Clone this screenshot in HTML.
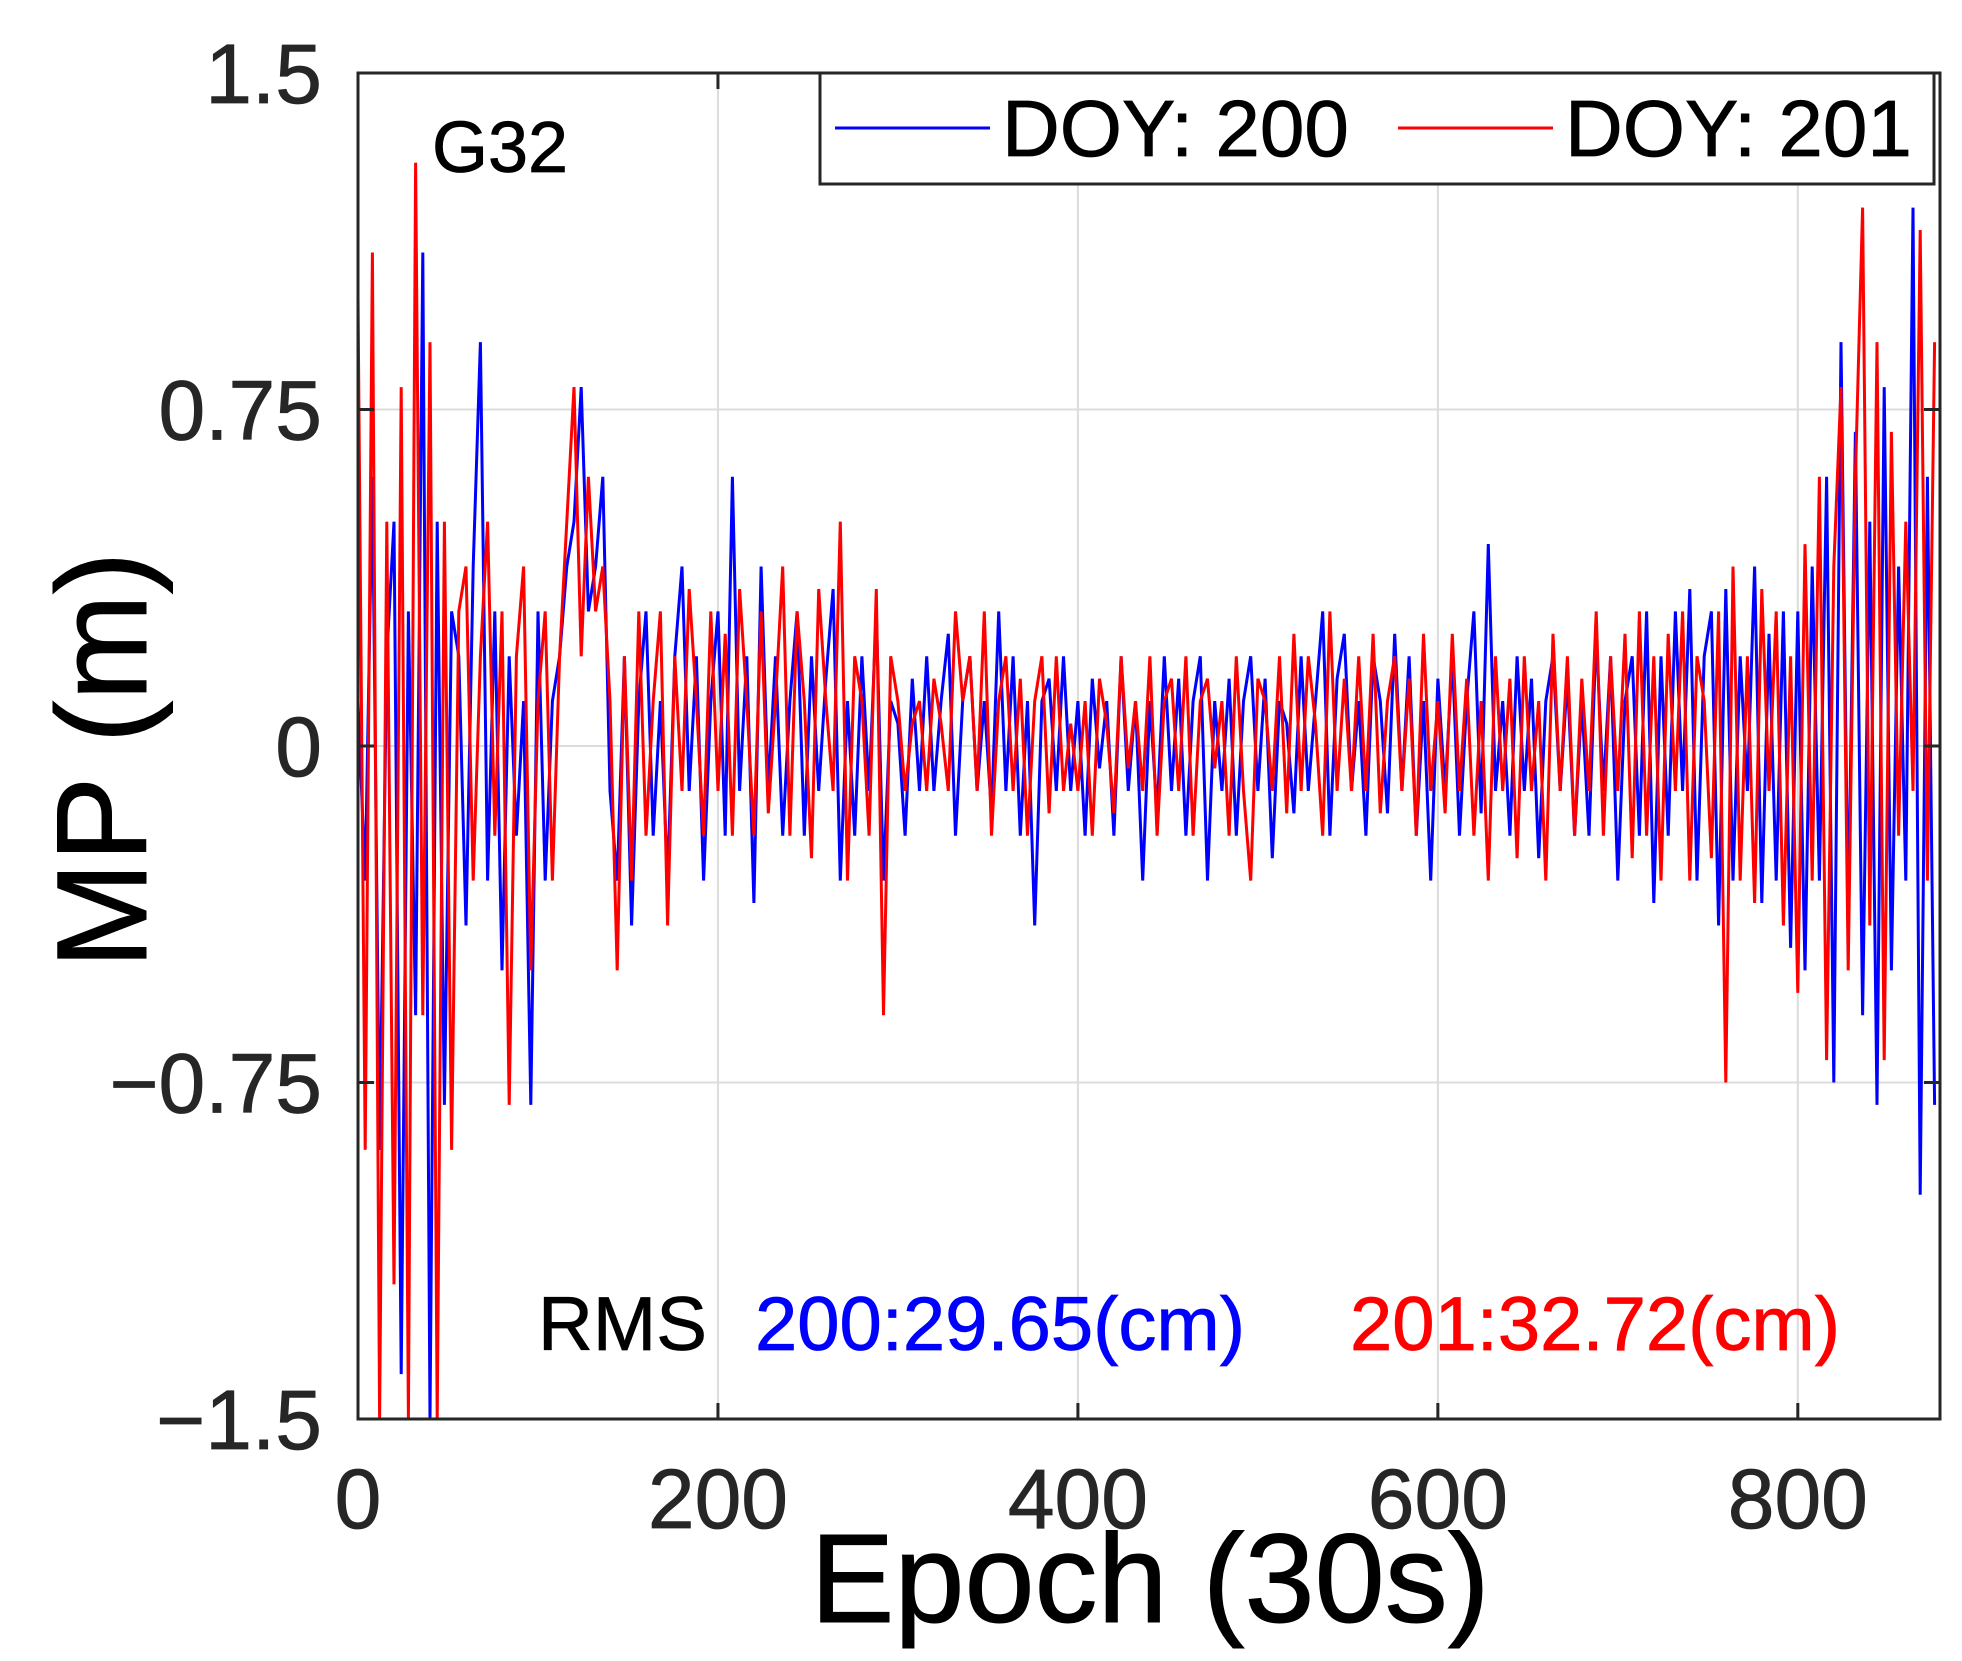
<!DOCTYPE html>
<html><head><meta charset="utf-8"><style>
html,body{margin:0;padding:0;background:#fff;}
svg{display:block;font-family:"Liberation Sans",Arial,sans-serif;}
</style></head><body>
<svg id="chart" width="1962" height="1661" viewBox="0 0 1962 1661" xmlns="http://www.w3.org/2000/svg">
<defs><clipPath id="pc"><rect x="358" y="73" width="1582" height="1346"/></clipPath></defs>
<rect x="0" y="0" width="1962" height="1661" fill="#fff"/>
<g id="grid"></g>
<g id="series" clip-path="url(#pc)"></g>
<rect x="358" y="73" width="1582" height="1346" fill="none" stroke="#262626" stroke-width="3"/>
<g id="ticks"></g>
<text x="432" y="172" font-size="72" fill="#000" stroke="#000" stroke-width="0.8">G32</text>
<g>
<rect x="820" y="73" width="1114" height="111" fill="#fff" stroke="#262626" stroke-width="3"/>
<line x1="835" y1="128" x2="990" y2="128" stroke="#0000ff" stroke-width="3"/>
<text x="1002" y="156" font-size="80" fill="#000" stroke="#000" stroke-width="0.8">DOY: 200</text>
<line x1="1398" y1="128" x2="1553" y2="128" stroke="#ff0000" stroke-width="3"/>
<text x="1565" y="156" font-size="80" fill="#000" stroke="#000" stroke-width="0.8">DOY: 201</text>
</g>
<text x="538" y="1350" font-size="76" fill="#000" stroke="#000" stroke-width="0.8">RMS</text>
<text x="755" y="1350" font-size="76" fill="#0000ff" stroke="#0000ff" stroke-width="0.8">200:29.65(cm)</text>
<text x="1350" y="1350" font-size="76" fill="#ff0000" stroke="#ff0000" stroke-width="0.8">201:32.72(cm)</text>
<text x="1150" y="1622" font-size="126" text-anchor="middle" fill="#000" stroke="#000" stroke-width="1">Epoch (30s)</text>
<text transform="translate(146,760) rotate(-90)" font-size="128" text-anchor="middle" fill="#000" stroke="#000" stroke-width="1">MP (m)</text>
</svg>
<script>
const xTicks=[0,200,400,600,800];
const yTicks=[-1.5,-0.75,0,0.75,1.5];
const yTickLabels=["\u22121.5","\u22120.75","0","0.75","1.5"];
const epochStep=4;
const doy200=[0.1,-0.3,0.6,-0.9,0.2,0.5,-1.4,0.3,-0.6,1.1,
-1.5,0.5,-0.8,0.3,0.2,-0.4,0.4,0.9,-0.3,0.3,
-0.5,0.2,-0.2,0.1,-0.8,0.3,-0.3,0.1,0.2,0.4,
0.5,0.8,0.3,0.4,0.6,-0.1,-0.3,0.2,-0.4,0.1,
0.3,-0.2,0.1,-0.3,0.2,0.4,-0.1,0.2,-0.3,0.1,
0.3,-0.2,0.6,-0.1,0.2,-0.35,0.4,-0.1,0.2,-0.2,
0.1,0.3,-0.2,0.2,-0.1,0.15,0.35,-0.3,0.1,-0.2,
0.2,-0.1,0.3,-0.3,0.1,0.05,-0.2,0.15,-0.1,0.2,
-0.1,0.1,0.25,-0.2,0.1,0.2,-0.1,0.1,-0.15,0.3,
-0.1,0.2,-0.2,0.1,-0.4,0.1,0.15,-0.1,0.2,-0.1,
0.1,-0.2,0.15,-0.05,0.1,-0.2,0.2,-0.1,0.1,-0.3,
0.1,-0.15,0.2,-0.1,0.15,-0.2,0.1,0.2,-0.3,0.1,
-0.1,0.15,-0.2,0.1,0.2,-0.1,0.15,-0.25,0.1,0.05,
-0.15,0.2,-0.1,0.1,0.3,-0.2,0.15,0.25,-0.1,0.1,
-0.2,0.2,0.1,-0.15,0.25,-0.1,0.2,-0.2,0.1,-0.3,
0.15,-0.1,0.2,-0.2,0.1,0.3,-0.15,0.45,-0.1,0.1,
-0.2,0.2,-0.1,0.15,-0.25,0.1,0.2,-0.1,0.15,-0.2,
0.1,-0.2,0.25,-0.1,0.2,-0.3,0.1,0.2,-0.2,0.3,
-0.35,0.2,-0.2,0.3,-0.1,0.35,-0.3,0.2,0.3,-0.4,
0.35,-0.3,0.2,-0.1,0.4,-0.35,0.25,-0.3,0.3,-0.45,
0.3,-0.5,0.4,-0.3,0.6,-0.75,0.9,-0.4,0.7,-0.6,
0.5,-0.8,0.8,-0.5,0.4,-0.3,1.2,-1.0,0.6,-0.8];
const doy201=[1.0,-0.9,1.1,-1.5,0.5,-1.2,0.8,-1.5,1.3,-0.6,
0.9,-1.5,0.5,-0.9,0.3,0.4,-0.3,0.2,0.5,-0.2,
0.3,-0.8,0.2,0.4,-0.5,0.1,0.3,-0.3,0.2,0.5,
0.8,0.2,0.6,0.3,0.4,0.1,-0.5,0.2,-0.3,0.3,
-0.2,0.1,0.3,-0.4,0.2,-0.1,0.35,0.1,-0.2,0.3,
-0.1,0.25,-0.2,0.35,0.1,-0.2,0.3,-0.15,0.1,0.4,
-0.2,0.3,0.1,-0.25,0.35,0.1,-0.1,0.5,-0.3,0.2,
0.1,-0.2,0.35,-0.6,0.2,0.1,-0.1,0.05,0.1,-0.1,
0.15,0.05,-0.1,0.3,0.1,0.2,-0.1,0.3,-0.2,0.1,
0.2,-0.1,0.15,-0.2,0.1,0.2,-0.15,0.2,-0.1,0.05,
-0.1,0.1,-0.2,0.15,0.05,-0.15,0.2,-0.05,0.1,-0.1,
0.2,-0.2,0.1,0.15,-0.1,0.2,-0.2,0.1,0.15,-0.05,
0.1,-0.2,0.2,-0.1,-0.3,0.15,0.1,-0.1,0.2,-0.15,
0.25,-0.1,0.2,0.05,-0.2,0.3,-0.1,0.15,-0.1,0.2,
-0.1,0.25,-0.15,0.1,0.2,-0.1,0.15,-0.2,0.25,-0.1,
0.1,-0.15,0.25,-0.1,0.15,-0.2,0.1,-0.3,0.2,-0.1,
0.15,-0.25,0.2,-0.1,0.1,-0.3,0.25,-0.1,0.2,-0.2,
0.15,-0.1,0.3,-0.2,0.2,-0.1,0.25,-0.25,0.3,-0.2,
0.2,-0.3,0.25,-0.1,0.3,-0.3,0.2,0.1,-0.25,0.3,
-0.75,0.4,-0.3,0.2,-0.35,0.35,-0.1,0.3,-0.4,0.2,
-0.55,0.45,-0.3,0.6,-0.7,0.4,0.8,-0.5,0.6,1.2,
-0.4,0.9,-0.7,0.7,-0.2,0.5,-0.1,1.15,-0.3,0.9];
const NS="http://www.w3.org/2000/svg";
const L=358,R=1940,T=73,B=1419,XMAX=879;
function xs(v){return L+(v/XMAX)*(R-L);}
function ys(v){return T+(1.5-v)/3*(B-T);}
const grid=document.getElementById('grid'),ticks=document.getElementById('ticks'),ser=document.getElementById('series');
function mk(tag,attrs,parent){const e=document.createElementNS(NS,tag);for(const k in attrs)e.setAttribute(k,attrs[k]);parent.appendChild(e);return e;}
xTicks.forEach(t=>{
  const x=xs(t);
  if(t>0){const g=mk('line',{x1:x,x2:x,y1:T,y2:B,stroke:'#dcdcdc','stroke-width':2},grid);
  
  }
  mk('line',{x1:x,x2:x,y1:B,y2:B-16,stroke:'#262626','stroke-width':3},ticks);
  mk('line',{x1:x,x2:x,y1:T,y2:T+16,stroke:'#262626','stroke-width':3},ticks);
  const tx=mk('text',{x:x,y:1528,'font-size':84,'text-anchor':'middle',fill:'#262626',stroke:'#262626','stroke-width':0.8},ticks);
  tx.textContent=t;
  
  
});
yTicks.forEach((t,i)=>{
  const y=ys(t);
  if(Math.abs(t)<1.5){const g=mk('line',{x1:L,x2:R,y1:y,y2:y,stroke:'#dcdcdc','stroke-width':2},grid);
  
  }
  mk('line',{x1:L,x2:L+16,y1:y,y2:y,stroke:'#262626','stroke-width':3},ticks);
  mk('line',{x1:R,x2:R-16,y1:y,y2:y,stroke:'#262626','stroke-width':3},ticks);
  const tx=mk('text',{x:322,y:y+30,'font-size':84,'text-anchor':'end',fill:'#262626',stroke:'#262626','stroke-width':0.8},ticks);
  tx.textContent=yTickLabels[i];
  
  
});
function line(data,color,name){
  const pts=data.map((v,i)=>xs(i*epochStep).toFixed(1)+','+ys(v).toFixed(1)).join(' ');
  const p=mk('polyline',{points:pts,fill:'none',stroke:color,'stroke-width':3,'stroke-linejoin':'miter'},ser);
  
  
}
line(doy200,'#0000ff','series-doy-200');
line(doy201,'#ff0000','series-doy-201');
</script>
</body></html>
